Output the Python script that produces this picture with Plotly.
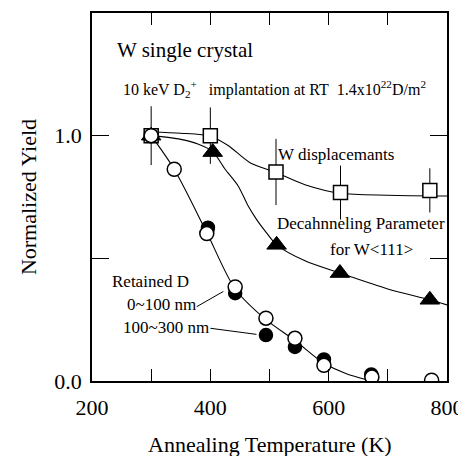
import plotly.graph_objects as go

# ---- data ----
T_disp = [300, 400, 511, 620, 771]
disp = [1.0, 1.0, 0.852, 0.768, 0.777]
disp_err = [0.12, 0.115, 0.135, 0.11, 0.09]

T_dech = [300, 404, 512, 619, 771]
dech = [1.0, 0.933, 0.555, 0.44, 0.331]

T_open = [300, 339, 394, 442, 494, 543, 592, 673, 774]
ret_open = [1.0, 0.863, 0.601, 0.383, 0.256, 0.174, 0.064, 0.016, 0.003]

T_fill = [300, 396, 442, 494, 543, 592, 672]
ret_fill = [1.0, 0.625, 0.358, 0.187, 0.139, 0.088, 0.027]

# hand-drawn guide curves
fitT_disp = [300, 350, 400, 430, 467, 511, 560, 620, 700, 800]
fit_disp = [1.015, 1.01, 0.998, 0.96, 0.89, 0.85, 0.80, 0.765, 0.757, 0.754]

fitT_dech = [300, 350, 380, 404, 425, 447, 464, 478, 495, 512, 560, 619, 700, 771, 800]
fit_dech = [1.0, 0.985, 0.965, 0.935, 0.863, 0.795, 0.713, 0.659, 0.604, 0.555, 0.49, 0.44, 0.375, 0.331, 0.31]

fitT_ret = [300, 339, 394, 442, 494, 543, 592, 630, 665]
fit_ret = [1.0, 0.863, 0.605, 0.375, 0.25, 0.165, 0.072, 0.03, 0.005]

x_ticks = [200, 300, 400, 500, 600, 700, 800]
x_ticktext = ["200", "", "400", "", "600", "", "800"]
y_ticks = [0.0, 0.5, 1.0, 1.5]
y_ticktext = ["0.0", "", "1.0", ""]

FONT = "Times New Roman, Liberation Serif, DejaVu Serif, serif"

fig = go.Figure()
line_style = dict(color="black", width=1.1, shape="spline", smoothing=0.8)
fig.add_trace(go.Scatter(x=fitT_disp, y=fit_disp, mode="lines", line=line_style, hoverinfo="skip"))
fig.add_trace(go.Scatter(x=fitT_dech, y=fit_dech, mode="lines", line=line_style, hoverinfo="skip"))
fig.add_trace(go.Scatter(x=fitT_ret, y=fit_ret, mode="lines", line=line_style, hoverinfo="skip"))

fig.add_trace(go.Scatter(
    x=T_disp, y=disp, mode="markers",
    error_y=dict(type="data", array=disp_err, color="black", thickness=1, width=0),
    marker=dict(symbol="square", size=14, color="white", line=dict(color="black", width=1.5)),
))
fig.add_trace(go.Scatter(
    x=T_dech, y=dech, mode="markers",
    marker=dict(symbol="triangle-up", size=17, color="black", line=dict(color="black", width=1)),
))
fig.add_trace(go.Scatter(
    x=T_fill, y=ret_fill, mode="markers",
    marker=dict(symbol="circle", size=13, color="black", line=dict(color="black", width=1.5)),
))
fig.add_trace(go.Scatter(
    x=T_open, y=ret_open, mode="markers",
    marker=dict(symbol="circle", size=14, color="white", line=dict(color="black", width=1.5)),
))

ann = []
def txt(x, y, s, size, xanchor="left"):
    ann.append(dict(x=x, y=y, xref="x", yref="y", text=s, showarrow=False,
                    xanchor=xanchor, yanchor="middle",
                    font=dict(family=FONT, size=size, color="black")))

txt(239, 1.35, "W single crystal", 21)
txt(249, 1.19, "10 keV D<sub>2</sub><sup>+</sup>&nbsp;&nbsp;&nbsp;implantation at RT&nbsp;&nbsp;1.4x10<sup>22</sup>D/m<sup>2</sup>", 16)
txt(511, 0.925, "W displacemants", 17)
txt(509, 0.64, "Decahnneling Parameter", 17)
txt(599, 0.535, "for W&lt;111&gt;", 17)
txt(231, 0.405, "Retained D", 17)
txt(256, 0.31, "0~100 nm", 17)
txt(249, 0.218, "100~300 nm", 17)

ann.append(dict(x=0.5, y=-0.172, xref="paper", yref="paper", text="Annealing Temperature (K)",
                showarrow=False, xanchor="center", yanchor="middle",
                font=dict(family=FONT, size=22, color="black")))
ann.append(dict(x=-0.18, y=0.5, xref="paper", yref="paper", text="Normalized Yield",
                showarrow=False, xanchor="center", yanchor="middle", textangle=-90,
                font=dict(family=FONT, size=22, color="black")))

shapes = [
    dict(type="line", xref="x", yref="y", x0=377, y0=0.303, x1=422, y1=0.365,
         line=dict(color="black", width=1)),
    dict(type="line", xref="x", yref="y", x0=400, y0=0.215, x1=478, y1=0.19,
         line=dict(color="black", width=1)),
]

# page body has an 8px margin, so the figure is sized/offset to compensate
fig.update_layout(
    width=458, height=448,
    margin=dict(l=84, r=19, t=5, b=75, autoexpand=False),
    paper_bgcolor="white", plot_bgcolor="white",
    showlegend=False,
    annotations=ann, shapes=shapes,
    font=dict(family=FONT, color="black"),
)
fig.update_xaxes(
    range=[200, 800], tickvals=x_ticks, ticktext=x_ticktext, automargin=False,
    ticks="inside", ticklen=12, tickwidth=1.3, tickcolor="black",
    showline=True, linecolor="black", linewidth=1.5, mirror="ticks",
    showgrid=False, zeroline=False,
    tickfont=dict(family=FONT, size=22, color="black"), ticklabelstandoff=6,
)
fig.update_yaxes(
    range=[0, 1.5], tickvals=y_ticks, ticktext=y_ticktext, automargin=False,
    ticks="inside", ticklen=17, tickwidth=1.3, tickcolor="black",
    showline=True, linecolor="black", linewidth=1.5, mirror="ticks",
    showgrid=False, zeroline=False,
    tickfont=dict(family=FONT, size=22, color="black"), ticklabelstandoff=4,
)

fig.write_html("out.html")
